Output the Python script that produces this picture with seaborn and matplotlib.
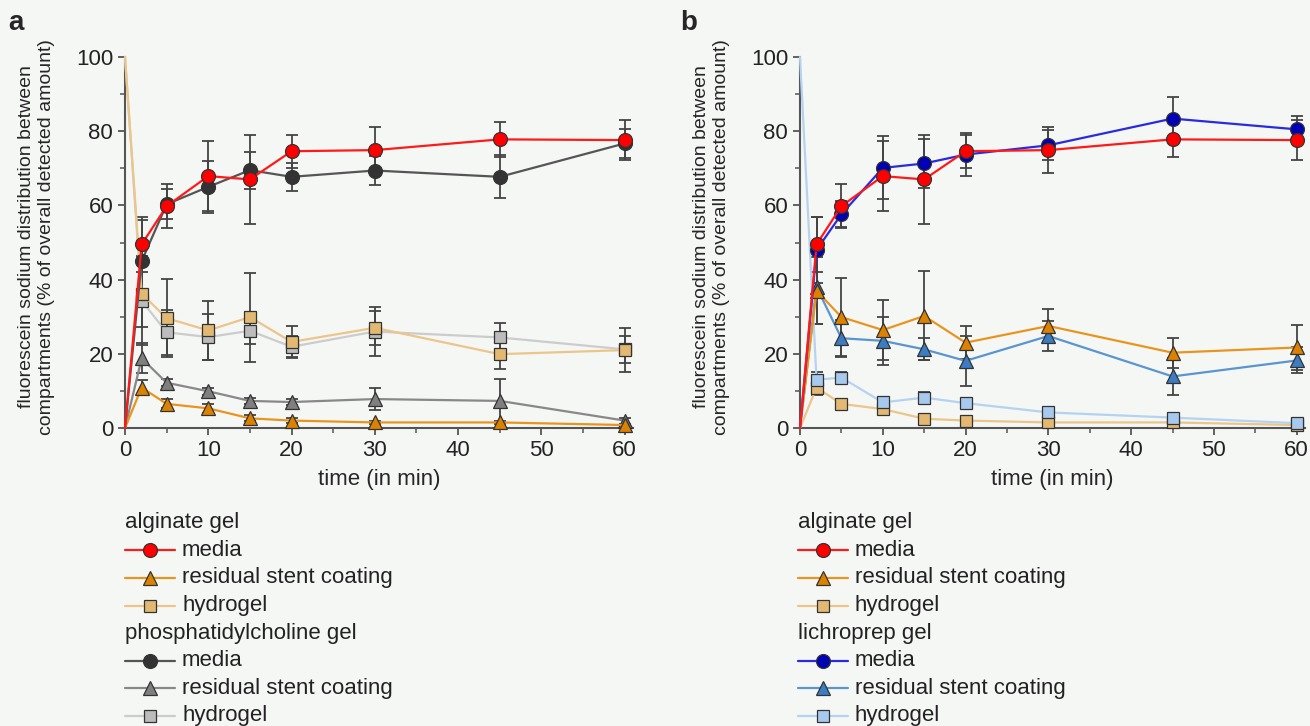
import matplotlib
matplotlib.use('Agg')
import matplotlib.pyplot as plt
import seaborn as sns
from matplotlib.lines import Line2D
from matplotlib.ticker import MultipleLocator

sns.set_theme(style='ticks')
plt.rcParams['font.family'] = ['Liberation Sans', 'DejaVu Sans']
plt.rcParams.update({
    'axes.linewidth': 1.5,
    'axes.edgecolor': '#555555',
    'xtick.color': '#555555',
    'ytick.color': '#555555',
    'xtick.labelcolor': '#222222',
    'ytick.labelcolor': '#222222',
    'xtick.major.size': 5,
    'ytick.major.size': 5,
    'xtick.minor.size': 3.5,
    'ytick.minor.size': 3.5,
    'xtick.major.width': 1.3,
    'ytick.major.width': 1.3,
    'xtick.minor.width': 1.1,
    'ytick.minor.width': 1.1,
    'xtick.labelsize': 16,
    'ytick.labelsize': 16,
    'axes.labelsize': 16,
})

# ---- data (time in min, % of overall detected amount) ----
time = [0, 2, 5, 10, 15, 20, 30, 45, 60]

# panel a
alg_media = [0, 49.5, 59.8, 67.9, 67.0, 74.6, 74.9, 77.8, 77.6]
alg_media_sd = [0, 7.5, 6.0, 9.4, 12.0, 4.5, 6.2, 4.8, 5.3]
alg_coat_a = [0, 10.9, 6.5, 5.3, 2.6, 2.0, 1.5, 1.5, 0.8]
alg_coat_a_sd = [0, 2.0, 1.2, 1.2, 0.8, 0.6, 0.5, 0.5, 0.4]
alg_hydro_a = [100, 36.2, 29.6, 26.3, 29.9, 23.2, 27.0, 19.9, 21.0]
alg_hydro_a_sd = [0, 9.0, 10.5, 8.0, 12.0, 4.2, 4.5, 4.0, 6.0]
pc_media = [0, 45.0, 60.3, 65.0, 69.5, 67.7, 69.4, 67.7, 76.7]
pc_media_sd = [0, 11.0, 4.0, 7.0, 5.0, 3.8, 4.0, 5.8, 4.0]
pc_coat = [0, 18.8, 12.2, 9.9, 7.3, 7.0, 7.8, 7.3, 2.0]
pc_coat_sd = [0, 4.0, 1.0, 1.0, 0.8, 0.8, 3.0, 6.0, 0.8]
pc_hydro = [100, 34.3, 25.8, 24.5, 26.2, 21.9, 26.0, 24.4, 21.2]
pc_hydro_sd = [0, 12.0, 6.0, 6.3, 3.5, 2.8, 6.6, 4.0, 3.6]

# panel b
alg_coat_b = [0, 37.0, 29.9, 26.4, 30.2, 23.0, 27.5, 20.3, 21.7]
alg_coat_b_sd = [0, 9.0, 10.5, 8.0, 12.0, 4.5, 4.5, 4.0, 6.0]
alg_hydro_b = [0, 10.9, 6.5, 5.1, 2.5, 2.0, 1.5, 1.5, 0.8]
alg_hydro_b_sd = [0, 2.0, 1.2, 1.0, 0.8, 0.6, 0.5, 0.5, 0.4]
lich_media = [0, 48.0, 57.6, 70.1, 71.3, 73.7, 76.2, 83.4, 80.5]
lich_media_sd = [0, 9.0, 3.5, 8.5, 6.5, 5.8, 4.0, 5.8, 3.5]
lich_coat = [0, 38.0, 24.2, 23.5, 21.2, 18.1, 24.8, 13.9, 18.2]
lich_coat_sd = [0, 10.0, 5.0, 6.5, 3.0, 6.7, 4.0, 5.0, 3.5]
lich_hydro = [100, 13.0, 13.6, 6.9, 8.2, 6.7, 4.2, 2.8, 1.3]
lich_hydro_sd = [0, 2.0, 1.5, 1.0, 1.5, 0.8, 1.0, 0.8, 0.5]

# ---- styles: (line colour, marker face, marker, size) ----
ST = {
    'alg_media': ('#ff1a1a', '#ff0000', 'o', 10),
    'alg_coat': ('#e89520', '#dc8200', '^', 10),
    'alg_hydro': ('#ecc58a', '#e3b872', 's', 8.5),
    'pc_media': ('#555555', '#333333', 'o', 10),
    'pc_coat': ('#888888', '#7f7f7f', '^', 10),
    'pc_hydro': ('#cccccc', '#bcbcbc', 's', 8.5),
    'lich_media': ('#2a2ae0', '#0000b4', 'o', 10),
    'lich_coat': ('#5a95d0', '#3b7cc2', '^', 10),
    'lich_hydro': ('#b5d3f0', '#a8c9ee', 's', 8.5),
}

BG = '#f5f7f5'
W, H = 1310, 726


def draw(ax, y, sd, key):
    lc, mc, mk, ms = ST[key]
    ax.errorbar(time[1:], y[1:], yerr=sd[1:], fmt='none', ecolor='#444444',
                elinewidth=1.3, capsize=4, capthick=1.3, zorder=2, clip_on=False)
    sns.lineplot(x=time, y=y, ax=ax, color=lc, lw=1.6, marker=mk, markersize=ms,
                 markerfacecolor=mc, markeredgecolor='#333333', mew=0.9,
                 markevery=list(range(1, len(time))), clip_on=False, zorder=3,
                 legend=False)


def style_axis(ax):
    ax.set_facecolor(BG)
    ax.set_xlim(0, 61)
    ax.set_ylim(0, 100)
    ax.xaxis.set_major_locator(MultipleLocator(10))
    ax.xaxis.set_minor_locator(MultipleLocator(5))
    ax.yaxis.set_major_locator(MultipleLocator(20))
    ax.yaxis.set_minor_locator(MultipleLocator(10))
    ax.spines['top'].set_visible(False)
    ax.spines['right'].set_visible(False)
    ax.spines['bottom'].set_bounds(0, 61)
    ax.set_xlabel('time (in min)', labelpad=6)
    ax.set_ylabel('fluorescein sodium distribution between\ncompartments (% of overall detected amount)',
                  fontsize=14, linespacing=1.25)
    ax.yaxis.set_label_coords(-0.138, 0.515)


def legend_block(x0, rows):
    for i, row in enumerate(rows):
        y = 1 - (522.7 + i * 27.6) / H
        if isinstance(row, str):
            fig.text(x0 / W, y, row, fontsize=16, va='center', ha='left', color='#222222')
            continue
        label, key = row
        lc, mc, mk, ms = ST[key]
        fig.add_artist(Line2D([x0 / W, (x0 + 25) / W, (x0 + 50) / W], [y, y, y],
                              transform=fig.transFigure, color=lc, lw=1.6,
                              marker=mk, markersize=ms, markerfacecolor=mc,
                              markeredgecolor='#333333', mew=0.9, markevery=[1]))
        fig.text((x0 + 57) / W, y, label, fontsize=16, va='center', ha='left', color='#222222')


fig = plt.figure(figsize=(W / 100, H / 100), dpi=100, facecolor=BG)
ax_a = fig.add_axes([125 / W, 1 - 428 / H, 508 / W, 371 / H])
ax_b = fig.add_axes([800 / W, 1 - 428 / H, 505 / W, 371 / H])

for ax in (ax_a, ax_b):
    style_axis(ax)

# panel a
draw(ax_a, pc_hydro, pc_hydro_sd, 'pc_hydro')
draw(ax_a, alg_hydro_a, alg_hydro_a_sd, 'alg_hydro')
draw(ax_a, pc_coat, pc_coat_sd, 'pc_coat')
draw(ax_a, alg_coat_a, alg_coat_a_sd, 'alg_coat')
draw(ax_a, pc_media, pc_media_sd, 'pc_media')
draw(ax_a, alg_media, alg_media_sd, 'alg_media')

# panel b
draw(ax_b, alg_hydro_b, alg_hydro_b_sd, 'alg_hydro')
draw(ax_b, lich_hydro, lich_hydro_sd, 'lich_hydro')
draw(ax_b, lich_coat, lich_coat_sd, 'lich_coat')
draw(ax_b, alg_coat_b, alg_coat_b_sd, 'alg_coat')
draw(ax_b, lich_media, lich_media_sd, 'lich_media')
draw(ax_b, alg_media, alg_media_sd, 'alg_media')

fig.text(8 / W, 1 - 23 / H, 'a', fontsize=20, fontweight='bold', va='center')
fig.text(680 / W, 1 - 23 / H, 'b', fontsize=20, fontweight='bold', va='center')

legend_block(125, ['alginate gel', ('media', 'alg_media'),
                   ('residual stent coating', 'alg_coat'), ('hydrogel', 'alg_hydro'),
                   'phosphatidylcholine gel', ('media', 'pc_media'),
                   ('residual stent coating', 'pc_coat'), ('hydrogel', 'pc_hydro')])
legend_block(798, ['alginate gel', ('media', 'alg_media'),
                   ('residual stent coating', 'alg_coat'), ('hydrogel', 'alg_hydro'),
                   'lichroprep gel', ('media', 'lich_media'),
                   ('residual stent coating', 'lich_coat'), ('hydrogel', 'lich_hydro')])

fig.savefig('out.png', dpi=100, facecolor=BG)
